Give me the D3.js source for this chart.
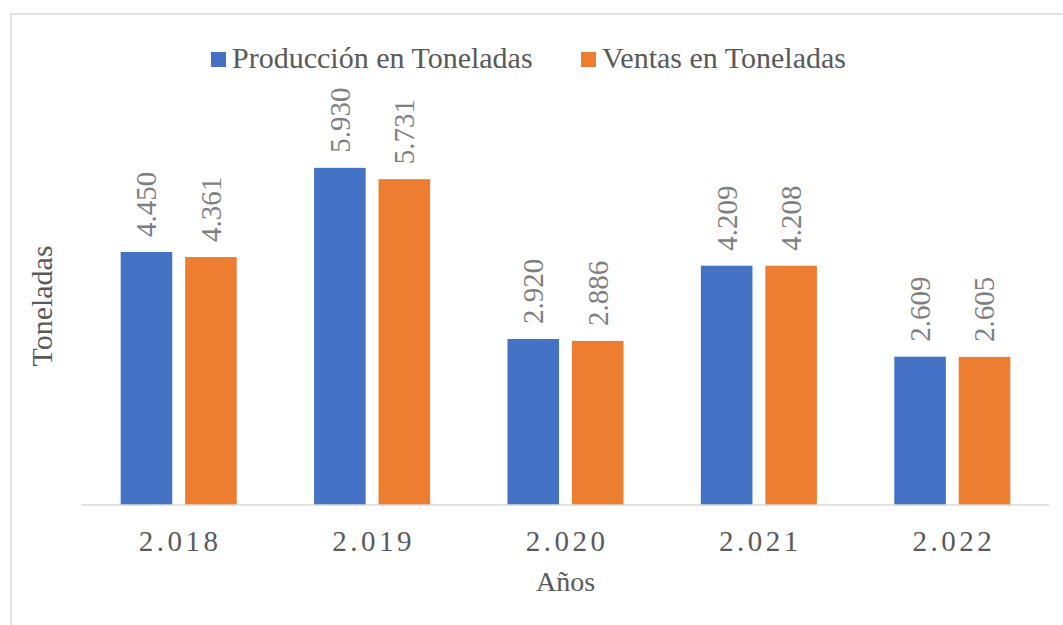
<!DOCTYPE html>
<html lang="es">
<head>
    <meta charset="UTF-8">
    <title>Producción y Ventas en Toneladas</title>
    <script src="https://d3js.org/d3.v7.min.js"></script>
    <style>
        body { margin: 0; background: #fff; font-family: "Liberation Serif", "Times New Roman", serif; }
        svg { display: block; }
    </style>
</head>
<body>
    <div id="chart"></div>

    <script>
        // data
        const years = [2018, 2019, 2020, 2021, 2022];
        const produccion = [4450, 5930, 2920, 4209, 2609];
        const ventas = [4361, 5731, 2886, 4208, 2605];
        const seriesNames = ["Producción en Toneladas", "Ventas en Toneladas"];
        const seriesColors = ["#4472C4", "#ED7D31"];

        const width = 1063, height = 625;
        const svg = d3.select("#chart").append("svg").attr("width", width).attr("height", height);

        // number format with "." as thousands separator
        const loc = d3.formatLocale({ decimal: ",", thousands: ".", grouping: [3], currency: ["", ""] });
        const fmt = loc.format(",d");

        // chart border
        svg.append("rect")
            .attr("x", 11).attr("y", 14)
            .attr("width", width).attr("height", height)
            .attr("fill", "none")
            .attr("stroke", "#d9d9d9")
            .attr("stroke-width", 1.5);

        const plot = { left: 82, right: 1049, top: 107, bottom: 505 };

        const x = d3.scaleBand().domain(years).range([plot.left, plot.right]);
        const x1 = d3.scaleBand().domain([0, 1]).range([0, x.bandwidth()])
            .paddingInner(0.2).paddingOuter(0.6);
        const y = d3.scaleLinear().domain([0, 7000]).range([plot.bottom, plot.top]);

        const rows = years.map((yr, i) => ({ year: yr, vals: [produccion[i], ventas[i]] }));

        const groups = svg.selectAll(".grp")
            .data(rows)
            .enter().append("g")
            .attr("class", "grp")
            .attr("transform", d => `translate(${x(d.year)},0)`);

        groups.selectAll("rect")
            .data(d => d.vals.map((v, k) => ({ k: k, v: v })))
            .enter().append("rect")
            .attr("x", d => x1(d.k))
            .attr("y", d => y(d.v))
            .attr("width", x1.bandwidth())
            .attr("height", d => y(0) - y(d.v))
            .attr("fill", d => seriesColors[d.k]);

        // rotated data labels above bars
        groups.selectAll(".lbl")
            .data(d => d.vals.map((v, k) => ({ k: k, v: v })))
            .enter().append("text")
            .attr("class", "lbl")
            .attr("transform", d => `translate(${x1(d.k) + x1.bandwidth() / 2},${y(d.v) - 15}) rotate(-90)`)
            .attr("dy", "0.34em")
            .attr("text-anchor", "start")
            .attr("fill", "#7f7f7f")
            .style("font-size", "29px")
            .text(d => fmt(d.v));

        // x axis line
        svg.append("line")
            .attr("x1", plot.left).attr("x2", plot.right)
            .attr("y1", y(0)).attr("y2", y(0))
            .attr("stroke", "#d9d9d9")
            .attr("stroke-width", 1.5);

        // category labels
        svg.selectAll(".xlab")
            .data(years)
            .enter().append("text")
            .attr("class", "xlab")
            .attr("x", d => x(d) + x.bandwidth() / 2 + 1.5)
            .attr("y", 551)
            .attr("text-anchor", "middle")
            .attr("fill", "#595959")
            .style("font-size", "29px")
            .style("letter-spacing", "3.5px")
            .text(d => fmt(d));

        // axis titles
        svg.append("text")
            .attr("x", (plot.left + plot.right) / 2)
            .attr("y", 591)
            .attr("text-anchor", "middle")
            .attr("fill", "#595959")
            .style("font-size", "28px")
            .text("Años");

        svg.append("text")
            .attr("transform", "translate(52,306) rotate(-90)")
            .attr("text-anchor", "middle")
            .attr("fill", "#595959")
            .style("font-size", "30px")
            .text("Toneladas");

        // legend
        const legendX = [211, 581];
        const legend = svg.selectAll(".leg")
            .data(seriesNames)
            .enter().append("g")
            .attr("class", "leg")
            .attr("transform", (d, i) => `translate(${legendX[i]},52)`);

        legend.append("rect")
            .attr("width", 15).attr("height", 15)
            .attr("fill", (d, i) => seriesColors[i]);

        legend.append("text")
            .attr("x", 21)
            .attr("y", 16)
            .attr("fill", "#595959")
            .style("font-size", "30px")
            .text(d => d);
    </script>
</body>
</html>
